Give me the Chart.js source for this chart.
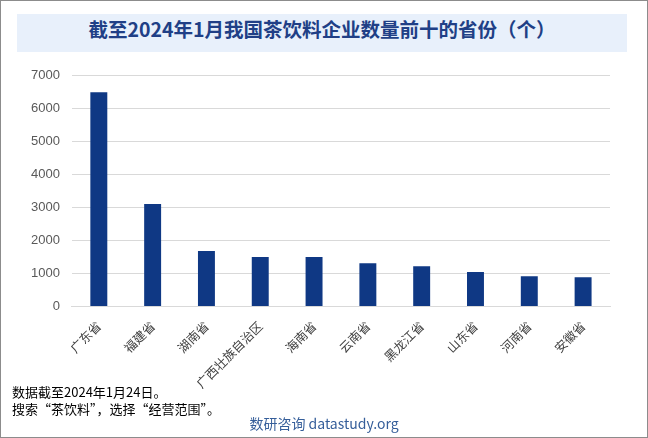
<!DOCTYPE html>
<html>
<head>
<meta charset="utf-8">
<script src="https://cdn.jsdelivr.net/npm/chart.js@4.4.1/dist/chart.umd.min.js"></script>
<style>
    html, body { margin: 0; padding: 0; }
    body { width: 648px; height: 438px; position: relative; overflow: hidden; background: #fff; }
    #frame { position: absolute; left: 0; top: 0; width: 646px; height: 436px; border: 1px solid #8c8c8c; }
    #title {
        position: absolute; left: 17px; top: 14px; width: 610px; height: 38px;
        background: #e8f0fb; color: #203f86; text-align: center; line-height: 38px;
        font: bold 19.5px "Noto Sans CJK SC", sans-serif;
    }
    #chart { position: absolute; left: 0; top: 0; }
    .note { position: absolute; left: 12px; font: 13px "Noto Sans CJK SC", sans-serif; color: #000; }
    #source { position: absolute; left: 0; width: 648px; top: 413px; text-align: center;
        font: 14px "Noto Sans CJK SC", "Liberation Sans", sans-serif; color: #355e9a; }
</style>
</head>
<body>
<div id="frame"></div>
<canvas id="chart" width="648" height="438"></canvas>
<div id="title">截至2024年1月我国茶饮料企业数量前十的省份（个）</div>
<div class="note" style="top:382px">数据截至2024年1月24日。</div>
<div class="note" style="top:399px">搜索“茶饮料”，选择“经营范围”。</div>
<div id="source">数研咨询 datastudy.org</div>

<script>
    // data
    const provinces = ['广东省', '福建省', '湖南省', '广西壮族自治区', '海南省', '云南省', '黑龙江省', '山东省', '河南省', '安徽省'];
    const companyCounts = [6480, 3100, 1680, 1500, 1500, 1310, 1220, 1040, 915, 885];
    const yTicks = [0, 1000, 2000, 3000, 4000, 5000, 6000, 7000];

    new Chart(document.getElementById('chart'), {
        type: 'bar',
        data: {
            labels: provinces,
            datasets: [{
                data: companyCounts,
                backgroundColor: '#0f3884',
                barPercentage: 0.315,
                categoryPercentage: 1
            }]
        },
        options: {
            responsive: false,
            animation: false,
            layout: {
                padding: {left: 19, right: 38, top: 75, bottom: 43}
            },
            plugins: {
                legend: {display: false},
                tooltip: {enabled: false}
            },
            scales: {
                x: {
                    grid: {display: false},
                    border: {color: '#d9d9d9'},
                    ticks: {
                        color: '#404040',
                        font: {family: '"Noto Sans CJK SC"', size: 12.5},
                        minRotation: 45,
                        maxRotation: 45,
                        autoSkip: false,
                        padding: 4
                    }
                },
                y: {
                    min: 0,
                    max: 7000,
                    afterBuildTicks: function (axis) {
                        axis.ticks = yTicks.map(v => ({value: v}));
                    },
                    grid: {color: '#d9d9d9', drawTicks: false},
                    border: {display: false},
                    ticks: {
                        color: '#595959',
                        font: {family: '"Liberation Sans"', size: 13},
                        padding: 12,
                        callback: v => String(v)
                    }
                }
            }
        }
    });
</script>
</body>
</html>
